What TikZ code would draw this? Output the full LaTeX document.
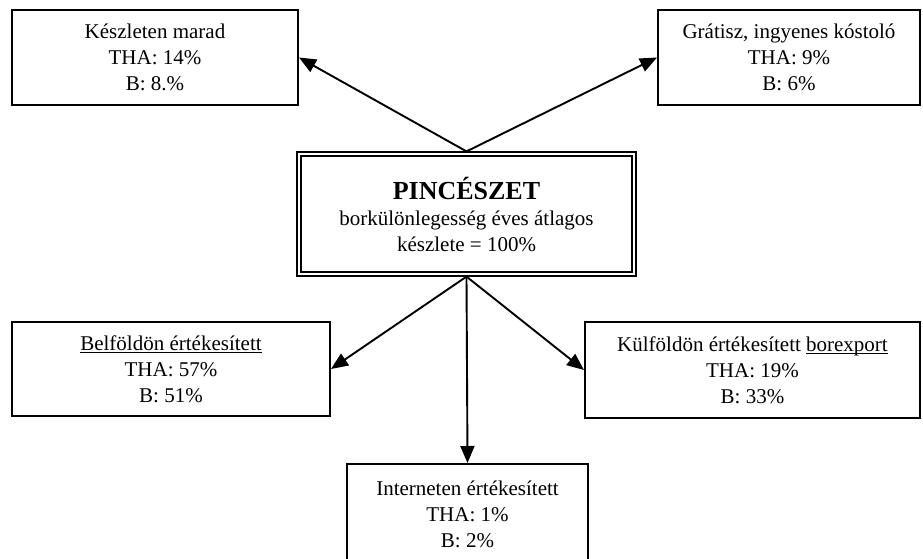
\documentclass[tikz,border=0pt]{standalone}
\usepackage{fontspec}
\setmainfont{Liberation Serif}
\usetikzlibrary{arrows.meta}
% underline drawn at a fixed depth below the baseline
\newcommand{\ulword}[1]{\setbox0\hbox{#1}\leavevmode\rlap{\rule[-3pt]{\wd0}{1pt}}\box0}
\begin{document}
\begin{tikzpicture}[x=1pt,y=-1pt,
  box/.style={draw, line width=2pt, align=center, inner sep=0pt,
    font=\fontsize{21}{26}\selectfont},
  flow/.style={line width=1.9pt, -{Triangle[length=17pt,width=14pt]}}]
\useasboundingbox (0,0) rectangle (923,558);

% outcome boxes
\node[box, minimum width=286pt, minimum height=95pt] (kl) at (155,57.5)
  {Készleten marad\\THA: 14\%\\B: 8.\%};
\node[box, minimum width=262pt, minimum height=95pt] (gr) at (789,57.5)
  {Grátisz, ingyenes kóstoló\\THA: 9\%\\B: 6\%};
\node[box, minimum width=318pt, minimum height=94pt] (bl) at (171,369)
  {\ulword{Belföldön értékesített}\\THA: 57\%\\B: 51\%};
\node[box, minimum width=335pt, minimum height=96pt] (br) at (752.5,370)
  {Külföldön értékesített \ulword{borexport}\\THA: 19\%\\B: 33\%};
\node[box, minimum width=241pt, minimum height=100pt] (in) at (467.5,514)
  {Interneten értékesített\\THA: 1\%\\B: 2\%};

% central box with a double frame
\node[box, line width=1.2pt, minimum width=339pt, minimum height=124pt] (pc) at (466.5,214)
  {{\fontsize{26}{30}\selectfont\bfseries PINCÉSZET}\\
   borkülönlegesség éves átlagos\\készlete = 100\%};
\draw[line width=2pt] ([xshift=4.5pt,yshift=-4.5pt]pc.north west)
  rectangle ([xshift=-4.5pt,yshift=4.5pt]pc.south east);

% connectors
\draw[flow] (pc.north) -- (kl.east);
\draw[flow] (pc.north) -- (gr.west);
\draw[flow] (pc.south) -- (bl.east);
\draw[flow] (pc.south) -- (br.west);
\draw[flow] (pc.south) -- (in.north);
\end{tikzpicture}
\end{document}
